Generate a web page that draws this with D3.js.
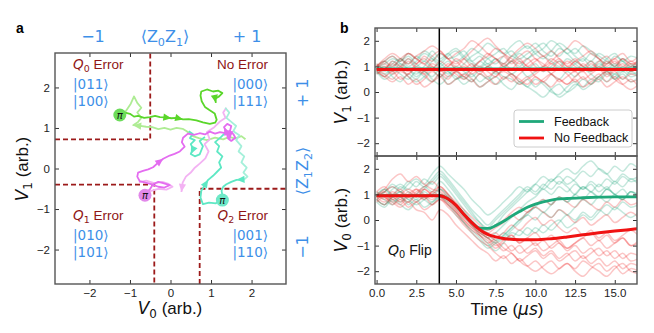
<!DOCTYPE html>
<html><head><meta charset="utf-8">
<script src="https://cdn.jsdelivr.net/npm/d3@7"></script>
<style>body{margin:0;background:#fff}svg{display:block}</style>
</head><body><svg width="654" height="333"></svg>
<script>
// ---- panel a data (V0, V1 in arb. units) ----
const q0Bound = [[-2.85,0.72],[-0.5,0.72],[-0.5,2.85]];
const q1Bound = [[-2.85,-0.4],[-0.4,-0.4],[-0.4,-2.85]];
const q2Bound = [[0.72,-2.85],[0.72,-0.5],[2.85,-0.5]];

const trajGreenPale = [[1.85,0.72],[1.75,0.8],[1.6,0.74],[1.45,0.78],[1.3,0.72],[1.1,0.76],[0.9,0.7],[0.7,0.75],[0.55,0.8],[0.4,0.92],[0.3,0.98],[0.15,1.0],[0.0,0.96],[-0.15,1.0],[-0.3,0.97],[-0.45,1.02],[-0.6,1.03],[-0.75,1.05],[-0.92,1.07],[-0.8,1.15],[-0.72,1.25],[-0.82,1.38],[-0.72,1.5],[-0.82,1.62],[-0.9,1.78],[-0.98,1.6],[-1.1,1.42],[-1.25,1.32]];
const arrowsGreenPale = [18];
const trajGreenDark = [[-1.25,1.32],[-1.12,1.38],[-1.0,1.35],[-0.9,1.28],[-0.8,1.3],[-0.65,1.25],[-0.51,1.27],[-0.38,1.3],[-0.26,1.27],[-0.12,1.26],[0.02,1.24],[0.15,1.25],[0.31,1.21],[0.45,1.22],[0.64,1.19],[0.8,1.14],[0.97,1.1],[1.1,1.13],[1.14,1.2],[1.09,1.36],[0.95,1.45],[0.85,1.52],[0.77,1.66],[0.74,1.8],[0.76,1.9],[0.9,1.95],[1.05,1.9],[1.18,1.92],[1.28,1.86],[1.2,1.78],[1.1,1.72],[1.12,1.62]];
const arrowsGreenDark = [10,12,31];

const trajPinkPale = [[1.38,1.5],[1.3,1.38],[1.36,1.25],[1.22,1.16],[1.08,1.02],[0.9,0.9],[0.97,0.72],[0.84,0.6],[0.94,0.42],[0.86,0.25],[0.72,0.12],[0.6,0.02],[0.5,-0.1],[0.38,-0.2],[0.3,-0.35],[0.27,-0.58]];
const arrowsPinkPale = [15];
const trajPinkLoop = [[-0.78,-0.34],[-0.6,-0.3],[-0.4,-0.36],[-0.2,-0.33],[-0.05,-0.38],[0.05,-0.45],[-0.1,-0.52],[-0.3,-0.5],[-0.5,-0.56],[-0.62,-0.66]];
const trajMagenta = [[-0.63,-0.63],[-0.5,-0.5],[-0.43,-0.39],[-0.3,-0.33],[-0.18,-0.36],[-0.02,-0.41],[-0.15,-0.47],[-0.3,-0.45],[-0.5,-0.38],[-0.76,-0.31],[-0.82,-0.2],[-0.8,-0.1],[-0.68,-0.06],[-0.55,-0.02],[-0.43,0.03],[-0.31,0.14],[-0.18,0.24],[-0.02,0.32],[0.1,0.36],[0.23,0.42],[0.35,0.54],[0.28,0.65],[0.31,0.76],[0.43,0.86],[0.58,0.83],[0.72,0.87],[0.85,0.84],[0.97,0.91],[1.1,0.86],[1.22,0.9],[1.35,0.87],[1.46,0.93],[1.55,0.85],[1.6,0.76],[1.5,0.68],[1.42,0.74],[1.38,0.9],[1.32,1.02],[1.4,1.1],[1.5,1.05],[1.46,0.9],[1.46,0.72]];
const arrowsMagenta = [16,37,41];

const trajCyanPale = [[1.35,1.5],[1.45,1.38],[1.38,1.25],[1.5,1.15],[1.62,1.05],[1.55,0.92],[1.7,0.82],[1.62,0.7],[1.75,0.55],[1.68,0.42],[1.82,0.3],[1.75,0.15],[1.88,0.02],[1.8,-0.1],[1.9,-0.2],[1.82,-0.27]];
const trajCyanA = [[1.82,-0.27],[1.63,-0.28],[1.5,-0.33],[1.38,-0.39],[1.3,-0.45],[1.26,-0.55],[1.28,-0.66],[1.26,-0.76]];
const arrowsCyanA = [1];
const trajCyanB = [[1.26,-0.76],[1.12,-0.86],[0.95,-0.84],[0.8,-0.88],[0.74,-0.72],[0.76,-0.55],[0.84,-0.42],[0.93,-0.28],[1.05,-0.18],[1.15,-0.08],[1.25,0.02],[1.2,0.15],[1.28,0.3],[1.15,0.42],[1.2,0.55],[1.1,0.65],[1.25,0.78],[1.35,0.88]];
const arrowsCyanB = [7];
const trajCyanC = [[0.45,0.92],[0.55,0.85],[0.48,0.75],[0.6,0.7],[0.5,0.6],[0.56,0.48],[0.5,0.36],[0.6,0.3],[0.72,0.35],[0.8,0.55],[0.72,0.68],[0.85,0.78]];
const arrowsCyanC = [6];

const piGreen = [-1.25,1.32], piMagenta = [-0.63,-0.66], piCyan = [1.28,-0.78];
const axisTicksA = [-2,-1,0,1,2];

// ---- panel b data (time in us) ----
const T = [0,0.5,1,1.5,2,2.5,3,3.5,4,4.5,5,5.5,6,6.5,7,7.5,8,8.5,9,9.5,10,10.5,11,11.5,12,12.5,13,13.5,14,14.5,15,15.5,16,16.5];
const flipTime = 3.95;

const v1Fb = [
 [0.9,1.1,1.3,1.2,1.4,1.1,0.9,1.2,1.5,1.3, 1.4,1.6,1.2,1.0,1.3,1.5,1.7,1.4,1.6,1.8, 1.5,1.3,1.6,1.9,1.7,1.4,1.2,1.5,1.3,1.1, 1.4,1.2,1.0,1.2],
 [0.8,0.6,0.9,0.7,0.5,0.8,0.6,0.4,0.7,0.3, 0.5,0.6,0.4,0.7,0.5,0.8,0.6,0.5,0.3,0.5, 0.2,0.4,0.1,-0.2,0.0,0.3,0.2,0.5,0.4,0.7, 0.5,0.8,0.6,0.7],
 [1.0,1.2,0.9,1.3,1.1,1.4,1.2,1.6,1.3,1.5, 1.2,1.4,1.7,1.5,1.3,1.1,1.4,1.6,1.3,1.5, 1.7,1.9,1.6,1.4,1.7,1.5,1.8,1.6,1.4,1.2, 1.0,1.3,1.1,0.9],
 [0.7,0.9,0.6,0.4,0.7,0.5,0.8,0.6,0.9,0.7, 1.0,0.8,0.6,0.9,1.1,0.8,1.0,0.7,0.9,0.6, 0.8,1.0,0.7,0.5,0.8,0.6,0.9,0.7,0.5,0.8, 0.6,0.9,0.7,0.8],
 [1.1,0.9,1.2,1.0,1.3,1.0,1.2,0.9,0.6,0.8, 0.5,0.7,0.9,1.2,1.0,1.3,1.1,1.4,1.2,0.9, 1.1,0.8,1.0,1.2,0.9,1.1,1.3,1.0,1.2,0.9, 1.1,0.8,1.0,0.9],
 [0.8,1.0,0.8,1.1,0.9,0.6,0.8,0.5,0.3,0.6, 0.8,0.5,0.7,0.4,0.6,0.3,0.5,0.7,0.4,0.2, 0.0,-0.2,0.1,0.3,0.0,0.2,0.5,0.3,0.6,0.4, 0.7,0.5,0.8,0.6],
 [0.9,0.7,1.0,1.2,1.5,1.3,1.6,1.4,1.2,1.5, 1.7,1.4,1.2,1.4,1.1,1.3,1.0,1.2,1.5,1.3, 1.6,1.4,1.2,1.0,1.3,1.1,0.9,1.2,1.0,1.3, 1.5,1.2,1.4,1.3],
 [1.0,0.8,1.1,1.3,1.0,1.2,1.5,1.3,1.0,1.2, 0.9,1.1,1.4,1.6,1.9,1.7,1.5,1.8,2.0,1.7, 1.9,1.6,1.4,1.7,1.5,1.2,1.0,0.8,1.1,0.9, 0.7,1.0,0.8,1.0],
 [0.8,0.5,0.7,0.9,0.6,0.4,0.6,0.9,1.1,0.8, 0.6,0.3,0.5,0.2,0.4,0.6,0.3,0.1,0.4,0.2, 0.5,0.3,0.0,-0.1,0.2,0.4,0.1,0.3,0.6,0.8, 0.5,0.7,0.4,0.6],
 [0.9,1.2,1.4,1.1,0.9,0.7,1.0,1.3,1.1,1.4, 1.6,1.3,1.1,0.8,1.0,0.7,0.9,1.2,1.0,1.3, 1.5,1.7,2.0,1.8,1.5,1.7,1.4,1.2,1.5,1.3, 1.0,1.2,0.9,1.1]
];
const v1NoFb = [
 [0.9,1.1,0.8,1.0,1.3,1.1,1.4,1.2,1.5,1.3, 1.0,1.3,1.6,1.9,2.1,1.8,1.5,1.3,1.1,1.3, 1.0,0.8,1.1,0.9,1.2,1.0,0.8,1.1,0.9,1.2, 1.0,1.3,1.1,1.2],
 [0.8,0.6,0.4,0.6,0.3,0.5,0.2,0.4,0.7,0.5, 0.8,0.6,0.4,0.7,0.5,0.3,0.6,0.4,0.7,0.9, 0.6,0.4,0.2,0.5,0.3,0.6,0.8,0.5,0.7,0.4, 0.6,0.3,0.1,0.3],
 [1.0,1.2,1.4,1.2,1.5,1.3,1.1,1.4,1.6,1.3, 1.5,1.7,2.0,1.8,1.5,1.3,1.0,1.2,0.9,1.1, 1.3,1.0,1.2,1.5,1.7,2.0,1.8,1.5,1.3,1.0, 1.2,0.9,1.1,1.0],
 [0.7,0.9,1.1,0.9,0.7,1.0,0.8,1.1,0.9,0.6, 0.8,1.0,0.7,0.9,0.6,0.8,0.5,0.7,0.4,0.6, 0.3,0.5,0.7,0.4,0.6,0.8,0.5,0.7,0.9,0.6, 0.8,0.5,0.7,0.6],
 [1.1,0.9,1.2,1.0,0.8,1.1,1.3,1.0,0.8,1.0, 1.2,0.9,1.1,0.8,1.0,1.2,1.4,1.1,1.3,1.0, 1.2,1.4,1.1,1.3,1.0,1.2,1.4,1.6,1.3,1.1, 1.3,1.5,1.2,1.4],
 [0.9,0.7,0.5,0.8,0.6,0.3,0.5,0.8,0.6,0.9, 0.7,0.5,0.8,1.0,0.8,0.6,0.9,0.7,0.5,0.3, 0.6,0.4,0.7,0.9,0.7,0.4,0.6,0.3,0.5,0.2, 0.4,0.6,0.4,0.5],
 [1.0,1.2,1.0,1.3,1.5,1.3,1.1,0.9,1.2,1.0, 1.3,1.1,0.9,1.2,1.4,1.7,1.5,1.2,1.4,1.6, 1.3,1.1,0.9,1.2,1.0,0.8,1.1,0.9,1.2,1.4, 1.1,1.3,1.0,1.3],
 [0.9,0.6,0.8,0.5,0.7,0.9,0.7,0.4,0.6,0.3, 0.5,0.7,0.5,0.2,0.4,0.6,0.8,0.6,0.3,0.5, 0.7,0.9,0.7,0.5,0.3,0.5,0.2,0.4,0.6,0.8, 0.5,0.3,0.5,0.2],
 [1.0,1.3,1.5,1.3,1.1,1.4,1.6,1.8,1.6,1.3, 1.1,1.3,1.0,1.2,1.5,1.3,1.1,1.4,1.7,1.9, 1.7,1.4,1.6,1.3,1.1,1.3,1.0,1.2,0.9,1.1, 1.3,1.0,1.2,1.0],
 [0.8,1.0,0.7,0.9,1.2,0.9,0.7,1.0,0.8,1.1, 0.9,0.6,0.9,0.7,1.0,0.8,1.1,0.9,1.2,1.0, 0.8,1.0,1.3,1.1,0.9,1.2,1.0,0.8,1.0,0.7, 0.9,1.1,0.8,1.0]
];
const v0Fb = [
 [0.9,1.1,1.3,1.1,1.4,1.6,1.4,1.8,2.1,1.8, 1.5,1.2,0.8,0.5,0.2,0.4,0.7,1.0,1.3,1.1, 1.4,1.7,1.5,1.8,2.0,1.8,2.1,2.3,2.0,1.8, 2.1,1.9,2.2,2.0],
 [0.8,0.6,0.9,0.7,1.0,0.8,1.1,0.9,1.2,1.0, 0.6,0.3,-0.1,-0.4,-0.7,-0.5,-0.2,0.1,0.4,0.7, 0.9,1.2,1.0,1.3,1.1,1.4,1.2,1.5,1.3,1.6, 1.4,1.7,1.5,1.6],
 [1.0,1.2,0.9,1.1,0.8,1.0,1.3,1.1,1.5,1.2, 0.8,0.4,0.0,-0.3,-0.5,-0.8,-0.6,-0.3,0.0,0.3, 0.5,0.8,0.6,0.9,0.7,1.0,0.8,1.1,0.9,1.2, 1.0,0.8,1.1,0.9],
 [0.7,0.5,0.8,0.6,0.4,0.7,0.9,0.7,1.0,0.9, 0.5,0.1,-0.2,-0.6,-0.9,-1.2,-0.9,-0.5,-0.6,-0.3, -0.5,-0.2,-0.4,-0.1,0.2,0.0,0.3,0.1,0.4,0.2, 0.5,0.3,0.1,0.3],
 [1.1,0.9,1.2,1.4,1.2,1.5,1.3,1.6,1.9,1.6, 1.2,0.8,0.4,0.1,-0.2,0.1,0.4,0.7,1.0,1.3, 1.1,1.4,1.2,1.5,1.3,1.0,1.3,1.1,0.9,1.2, 1.0,0.8,1.1,1.0],
 [0.8,1.0,0.7,0.9,0.6,0.8,0.5,0.7,0.9,0.6, 0.2,-0.1,-0.4,-0.7,-1.0,-0.8,-0.5,-0.7,-0.4,-0.6, -0.3,-0.5,-0.2,0.0,-0.3,-0.1,0.2,0.0,0.3,0.6, 0.4,0.7,0.5,0.6],
 [0.9,1.2,1.0,1.3,1.1,0.9,1.2,1.5,1.8,1.5, 1.1,0.7,0.3,-0.1,-0.4,-0.2,0.2,0.5,0.8,1.1, 1.4,1.2,1.5,1.7,1.4,1.6,1.9,1.7,2.0,1.8, 1.5,1.8,1.6,1.7],
 [1.0,0.8,0.6,0.9,0.7,1.0,0.8,0.6,0.9,0.7, 0.3,-0.1,-0.5,-0.8,-1.1,-0.9,-0.6,-0.3,0.0,0.2, 0.5,0.3,0.6,0.9,0.7,1.0,1.3,1.1,1.4,1.2, 1.5,1.3,1.6,1.4],
 [0.9,1.1,1.4,1.2,1.5,1.3,1.6,1.4,1.7,1.4, 1.0,0.6,0.2,-0.1,-0.3,0.0,0.3,0.6,0.9,1.2, 1.0,1.3,1.6,1.4,1.7,1.5,1.2,1.4,1.1,1.3, 1.0,1.2,0.9,1.1],
 [0.8,0.6,0.9,1.1,0.8,0.6,0.8,1.0,1.2,0.9, 0.5,0.2,-0.2,-0.5,-0.7,-0.9,-0.7,-0.4,-0.1,0.2, 0.0,0.3,0.1,0.4,0.2,0.5,0.8,0.6,0.9,0.7, 1.0,0.8,1.1,0.9]
];
const v0NoFb = [
 [0.9,1.1,0.8,1.0,1.2,1.0,0.8,1.1,0.9,0.6, 0.3,0.0,-0.3,-0.6,-0.8,-1.1,-0.9,-1.2,-1.0,-1.3, -1.1,-1.4,-1.2,-1.5,-1.3,-1.6,-1.4,-1.7,-1.5,-1.8, -1.6,-1.9,-1.7,-1.8],
 [1.0,0.8,1.1,0.9,0.7,1.0,1.2,1.0,1.3,1.0, 0.6,0.2,-0.1,-0.4,-0.6,-0.5,-0.8,-0.6,-0.9,-0.7, -1.0,-0.8,-1.1,-0.9,-1.2,-1.0,-1.3,-1.1,-1.4,-1.2, -1.5,-1.3,-1.6,-1.5],
 [0.8,0.6,0.9,0.7,1.0,1.2,0.9,1.1,1.3,1.0, 0.7,0.4,0.1,-0.2,-0.4,-0.2,0.0,0.3,0.5,0.3, 0.6,0.8,0.6,0.9,0.7,0.5,0.8,0.6,0.4,0.7, 0.5,0.8,0.6,0.7],
 [1.1,0.9,0.7,0.5,0.7,0.4,0.3,0.0,0.4,0.2, -0.2,-0.5,-0.8,-1.1,-1.3,-1.6,-1.4,-1.7,-1.5,-1.8, -2.0,-1.8,-1.6,-1.9,-1.7,-2.0,-2.2,-1.9,-1.7,-2.0, -1.8,-2.1,-1.9,-2.0],
 [0.9,1.1,1.3,1.1,0.9,1.2,1.0,0.8,1.0,0.8, 0.4,0.0,-0.3,-0.5,-0.7,-1.0,-0.8,-0.6,-0.9,-0.7, -0.5,-0.8,-0.6,-0.9,-1.1,-0.9,-0.7,-1.0,-0.8,-1.1, -0.9,-0.7,-1.0,-0.9],
 [0.7,0.9,0.6,0.8,0.5,0.7,0.4,0.6,0.8,0.5, 0.2,-0.2,-0.5,-0.8,-1.0,-1.3,-1.5,-1.3,-1.6,-1.4, -1.2,-1.5,-1.3,-1.6,-1.4,-1.2,-1.5,-1.3,-1.1,-1.4, -1.2,-1.5,-1.3,-1.4],
 [1.0,1.2,1.6,1.8,1.5,1.7,1.4,1.2,1.1,0.8, 0.5,0.2,-0.1,-0.3,-0.5,-0.3,-0.1,0.2,0.0,0.3, 0.5,0.3,0.1,0.4,0.2,-0.1,0.1,-0.2,0.0,0.2, -0.1,0.1,0.3,0.1],
 [0.9,0.7,1.0,0.8,1.1,0.9,1.2,1.0,0.9,0.7, 0.4,0.1,-0.2,-0.5,-0.7,-0.9,-1.2,-1.0,-1.3,-1.1, -0.9,-1.2,-1.0,-0.8,-1.1,-0.9,-0.7,-0.5,-0.8,-0.6, -0.9,-0.7,-1.0,-0.8],
 [1.1,1.3,1.0,1.2,0.9,1.1,1.3,1.5,1.2,0.9, 0.6,0.2,-0.2,-0.4,-0.6,-0.8,-1.1,-1.3,-1.6,-1.8, -1.6,-1.9,-2.1,-1.9,-1.7,-1.9,-1.6,-1.8,-2.0,-2.2, -1.9,-1.7,-2.0,-2.1],
 [0.8,1.0,0.8,0.6,0.9,0.7,0.9,0.6,0.8,0.6, 0.3,-0.1,-0.4,-0.6,-0.9,-0.7,-0.5,-0.2,-0.4,-0.1, 0.1,-0.2,0.0,-0.3,-0.5,-0.3,-0.6,-0.4,-0.7,-0.5, -0.8,-0.6,-0.4,-0.6]
];
const meanV1T = [0,4,8,12,16.5];
const meanV1Fb = [0.9,0.9,0.9,0.9,0.9];
const meanV1NoFb = [0.88,0.88,0.88,0.88,0.88];
const meanV0NoFbT = [0,4,4.5,5,5.5,6,6.5,7,7.5,8,9,10,11,12,13,14,15,16,16.5];
const meanV0NoFb = [0.95,0.95,0.82,0.58,0.22,-0.1,-0.38,-0.56,-0.66,-0.72,-0.77,-0.77,-0.73,-0.66,-0.58,-0.5,-0.43,-0.37,-0.34];
const meanV0FbT = [0,4,4.5,5,5.5,6,6.5,7,7.5,8,8.5,9,9.5,10,11,12,13,14,15,16,16.5];
const meanV0Fb = [0.95,0.95,0.82,0.58,0.22,-0.1,-0.32,-0.33,-0.22,-0.05,0.15,0.33,0.5,0.62,0.78,0.84,0.87,0.89,0.9,0.9,0.9];
const timeTicks = [0,2.5,5,7.5,10,12.5,15];
const vTicks = [-2,-1,0,1,2];
const legendNames = ["Feedback","No Feedback"];

// ---- styles ----
const SANS = "'Liberation Sans', Arial, Helvetica, sans-serif";
const MATH = "'DejaVu Sans', sans-serif";
const BLUE = "#3d8fe8", DARKRED = "#8f1515", FRAME = "#555";
const GREEN = "#1fa87a", RED = "#f01212";

const svg = d3.select("svg").attr("font-family", SANS);

function rich(g, parts, fs, attrs) {
  const t = g.append("text").attr("font-size", fs);
  Object.entries(attrs || {}).forEach(([k, v]) => t.attr(k, v));
  let shift = 0;
  parts.forEach(p => {
    const s = t.append("tspan").text(p.t);
    const want = p.sub ? fs * 0.24 : 0;
    if (want !== shift) { s.attr("dy", want - shift); shift = want; }
    if (p.sub) s.attr("font-size", fs * 0.7);
    if (p.it) s.attr("font-style", "italic");
    if (p.f) s.attr("font-family", p.f);
  });
  return t;
}

function styleAxis(g) {
  g.select(".domain").remove();
  g.selectAll(".tick line").attr("stroke", "#333").attr("stroke-width", 1);
  g.selectAll(".tick text").attr("font-size", 11.5).attr("fill", "#222").attr("font-family", SANS);
}

function frameAxes(g, x, y, opt) {
  const [x0, x1] = x.range(), [y0, y1] = y.range();
  const b = g.append("g").attr("transform", `translate(0,${y0})`)
    .call(d3.axisBottom(x).tickValues(opt.xt).tickSize(-4).tickSizeOuter(0).tickPadding(5)
      .tickFormat(opt.showX ? opt.xf : () => ""));
  styleAxis(b);
  const t = g.append("g").attr("transform", `translate(0,${y1})`)
    .call(d3.axisTop(x).tickValues(opt.xt).tickSize(-4).tickSizeOuter(0).tickFormat(() => ""));
  styleAxis(t);
  const l = g.append("g").attr("transform", `translate(${x0},0)`)
    .call(d3.axisLeft(y).tickValues(opt.yt).tickSize(-4).tickSizeOuter(0).tickPadding(5).tickFormat(d3.format("d")));
  styleAxis(l);
  const r = g.append("g").attr("transform", `translate(${x1},0)`)
    .call(d3.axisRight(y).tickValues(opt.yt).tickSize(-4).tickSizeOuter(0).tickFormat(() => ""));
  styleAxis(r);
  g.append("rect").attr("x", x0).attr("y", y1).attr("width", x1 - x0).attr("height", y0 - y1)
    .attr("fill", "none").attr("stroke", FRAME).attr("stroke-width", 1.4);
}

function clip(id, x, y) {
  const [x0, x1] = x.range(), [y0, y1] = y.range();
  svg.append("clipPath").attr("id", id).append("rect")
    .attr("x", x0).attr("y", y1).attr("width", x1 - x0).attr("height", y0 - y1);
}

// ================= panel a =================
const xA = d3.scaleLinear().domain([-2.85, 2.85]).range([55, 286]);
const yA = d3.scaleLinear().domain([-2.85, 2.85]).range([284, 53]);
clip("clipA", xA, yA);
const gA = svg.append("g");
const plotA = gA.append("g").attr("clip-path", "url(#clipA)");
const lineA = d3.line().x(d => xA(d[0])).y(d => yA(d[1]));

[q0Bound, q1Bound, q2Bound].forEach(b => {
  plotA.append("path").attr("d", lineA(b)).attr("fill", "none")
    .attr("stroke", "#9c1a1a").attr("stroke-width", 1.8).attr("stroke-dasharray", "5,3");
});

function traj(pts, color, arrows) {
  plotA.append("path").attr("d", lineA(pts)).attr("fill", "none").attr("stroke", color)
    .attr("stroke-width", 1.8).attr("stroke-linejoin", "round");
  (arrows || []).forEach(i => {
    const a = pts[i - 1], b = pts[i];
    const ang = Math.atan2(yA(b[1]) - yA(a[1]), xA(b[0]) - xA(a[0])) * 180 / Math.PI;
    plotA.append("path").attr("d", "M0,0L-8,-3.6L-8,3.6Z").attr("fill", color)
      .attr("transform", `translate(${xA(b[0])},${yA(b[1])}) rotate(${ang})`);
  });
}
traj(trajGreenPale, "#aeec94", arrowsGreenPale);
traj(trajPinkPale, "#f3b2f3", arrowsPinkPale);
traj(trajPinkLoop, "#f3b2f3", []);
traj(trajCyanPale, "#a4f0da", []);
traj(trajCyanB, "#5ee8c4", arrowsCyanB);
traj(trajCyanA, "#5ee8c4", arrowsCyanA);
traj(trajCyanC, "#5ee8c4", arrowsCyanC);
traj(trajMagenta, "#e46cf0", arrowsMagenta);
traj(trajGreenDark, "#5ad62a", arrowsGreenDark);

[[piGreen, "#6cdc5a"], [piMagenta, "#e288ea"], [piCyan, "#6ee8c8"]].forEach(([p, c]) => {
  plotA.append("circle").attr("cx", xA(p[0])).attr("cy", yA(p[1])).attr("r", 6.5).attr("fill", c);
  plotA.append("text").attr("x", xA(p[0])).attr("y", yA(p[1]) + 3.5).attr("text-anchor", "middle")
    .attr("font-size", 10).attr("font-style", "italic").attr("font-family", MATH).attr("fill", "#111").text("π");
});

frameAxes(gA, xA, yA, { xt: axisTicksA, yt: axisTicksA, showX: true, xf: d3.format("d") });

// region labels
const errQ = (n) => [{ t: "Q", it: true, f: MATH }, { t: String(n), sub: true, f: MATH }, { t: " Error" }];
rich(gA, errQ(0), 13.5, { x: 73, y: 69, fill: DARKRED });
rich(gA, [{ t: "No Error" }], 13.5, { x: 268, y: 69, fill: DARKRED, "text-anchor": "end" });
rich(gA, errQ(1), 13.5, { x: 73, y: 220, fill: DARKRED });
rich(gA, errQ(2), 13.5, { x: 268, y: 220, fill: DARKRED, "text-anchor": "end" });
const ket = (s, x, y, anchor) => gA.append("text").attr("x", x).attr("y", y).attr("text-anchor", anchor)
  .attr("font-family", MATH).attr("font-size", 13.5).attr("fill", BLUE).text("|" + s + "⟩");
ket("011", 73, 89, "start"); ket("100", 73, 106, "start");
ket("000", 268, 89, "end"); ket("111", 268, 106, "end");
ket("010", 73, 240, "start"); ket("101", 73, 257, "start");
ket("001", 268, 240, "end"); ket("110", 268, 257, "end");

// parity labels
const blue = { fill: BLUE, "font-family": MATH, "text-anchor": "middle" };
rich(gA, [{ t: "−1" }], 16, { ...blue, x: 93, y: 42 });
rich(gA, [{ t: "⟨Z" }, { t: "0", sub: true }, { t: "Z" }, { t: "1", sub: true }, { t: "⟩" }], 16, { ...blue, x: 165, y: 42 });
rich(gA, [{ t: "+ 1" }], 16, { ...blue, x: 247, y: 42 });
rich(gA, [{ t: "+ 1" }], 16, { ...blue, transform: "translate(308,93) rotate(-90)" });
rich(gA, [{ t: "⟨Z" }, { t: "1", sub: true }, { t: "Z" }, { t: "2", sub: true }, { t: "⟩" }], 16, { ...blue, transform: "translate(308,171) rotate(-90)" });
rich(gA, [{ t: "−1" }], 16, { ...blue, transform: "translate(308,247) rotate(-90)" });

const vLabel = (n) => [{ t: "V", it: true, f: MATH }, { t: String(n), sub: true, f: MATH }, { t: " (arb.)" }];
rich(gA, vLabel(0), 17, { x: 170, y: 314, "text-anchor": "middle", fill: "#111" });
rich(gA, vLabel(1), 17, { "text-anchor": "middle", fill: "#111", transform: "translate(28,169) rotate(-90)" });
svg.append("text").attr("x", 16).attr("y", 33).attr("font-weight", "bold").attr("font-size", 14).text("a");

// ================= panel b =================
const xB = d3.scaleLinear().domain([-0.1, 16.4]).range([375, 637]);
const yTop = d3.scaleLinear().domain([-2.5, 2.5]).range([156, 28]);
const yBot = d3.scaleLinear().domain([-2.5, 2.5]).range([284, 156]);
clip("clipT", xB, yTop); clip("clipB", xB, yBot);
const gB = svg.append("g");

function subplot(y, clipId, fbTraces, noFbTraces, mFbT, mFb, mNoT, mNo) {
  const g = gB.append("g").attr("clip-path", `url(#${clipId})`);
  const line = d3.line().x(d => xB(d[0])).y(d => y(d[1])).curve(d3.curveCatmullRom);
  fbTraces.forEach(tr => g.append("path").attr("d", line(d3.zip(T, tr))).attr("fill", "none")
    .attr("stroke", GREEN).attr("stroke-opacity", 0.26).attr("stroke-width", 1.5));
  noFbTraces.forEach(tr => g.append("path").attr("d", line(d3.zip(T, tr))).attr("fill", "none")
    .attr("stroke", RED).attr("stroke-opacity", 0.24).attr("stroke-width", 1.5));
  const smooth = d3.line().x(d => xB(d[0])).y(d => y(d[1])).curve(d3.curveMonotoneX);
  g.append("path").attr("d", smooth(d3.zip(mFbT, mFb))).attr("fill", "none").attr("stroke", GREEN).attr("stroke-width", 2.8);
  g.append("path").attr("d", smooth(d3.zip(mNoT, mNo))).attr("fill", "none").attr("stroke", RED).attr("stroke-width", 3);
}
subplot(yTop, "clipT", v1Fb, v1NoFb, meanV1T, meanV1Fb, meanV1T, meanV1NoFb);
subplot(yBot, "clipB", v0Fb, v0NoFb, meanV0FbT, meanV0Fb, meanV0NoFbT, meanV0NoFb);

gB.append("line").attr("x1", xB(flipTime)).attr("x2", xB(flipTime)).attr("y1", yTop.range()[1]).attr("y2", yBot.range()[0])
  .attr("stroke", "#000").attr("stroke-width", 1.5);

frameAxes(gB, xB, yTop, { xt: timeTicks, yt: vTicks, showX: false });
frameAxes(gB, xB, yBot, { xt: timeTicks, yt: vTicks, showX: true, xf: d3.format(".1f") });

// legend
const lg = gB.append("g");
lg.append("rect").attr("x", 514).attr("y", 110).attr("width", 118).attr("height", 37).attr("rx", 3)
  .attr("fill", "#fff").attr("fill-opacity", 0.9).attr("stroke", "#ccc");
[GREEN, RED].forEach((c, i) => {
  lg.append("line").attr("x1", 519).attr("x2", 544).attr("y1", 121.5 + i * 16.5).attr("y2", 121.5 + i * 16.5)
    .attr("stroke", c).attr("stroke-width", 2.8);
  lg.append("text").attr("x", 554).attr("y", 125.5 + i * 16.5).attr("font-size", 12.5).attr("fill", "#111").text(legendNames[i]);
});

rich(gB, [{ t: "Q", it: true, f: MATH }, { t: "0", sub: true, f: MATH }, { t: " Flip" }], 14, { x: 388, y: 255, fill: "#111" });
rich(gB, [{ t: "Time (" }, { t: "μs", it: true, f: MATH }, { t: ")" }], 17, { x: 507, y: 315, "text-anchor": "middle", fill: "#111" });
rich(gB, vLabel(1), 17, { "text-anchor": "middle", fill: "#111", transform: "translate(347,92) rotate(-90)" });
rich(gB, vLabel(0), 17, { "text-anchor": "middle", fill: "#111", transform: "translate(347,220) rotate(-90)" });
svg.append("text").attr("x", 340).attr("y", 33).attr("font-weight", "bold").attr("font-size", 14).text("b");
</script></body></html>
